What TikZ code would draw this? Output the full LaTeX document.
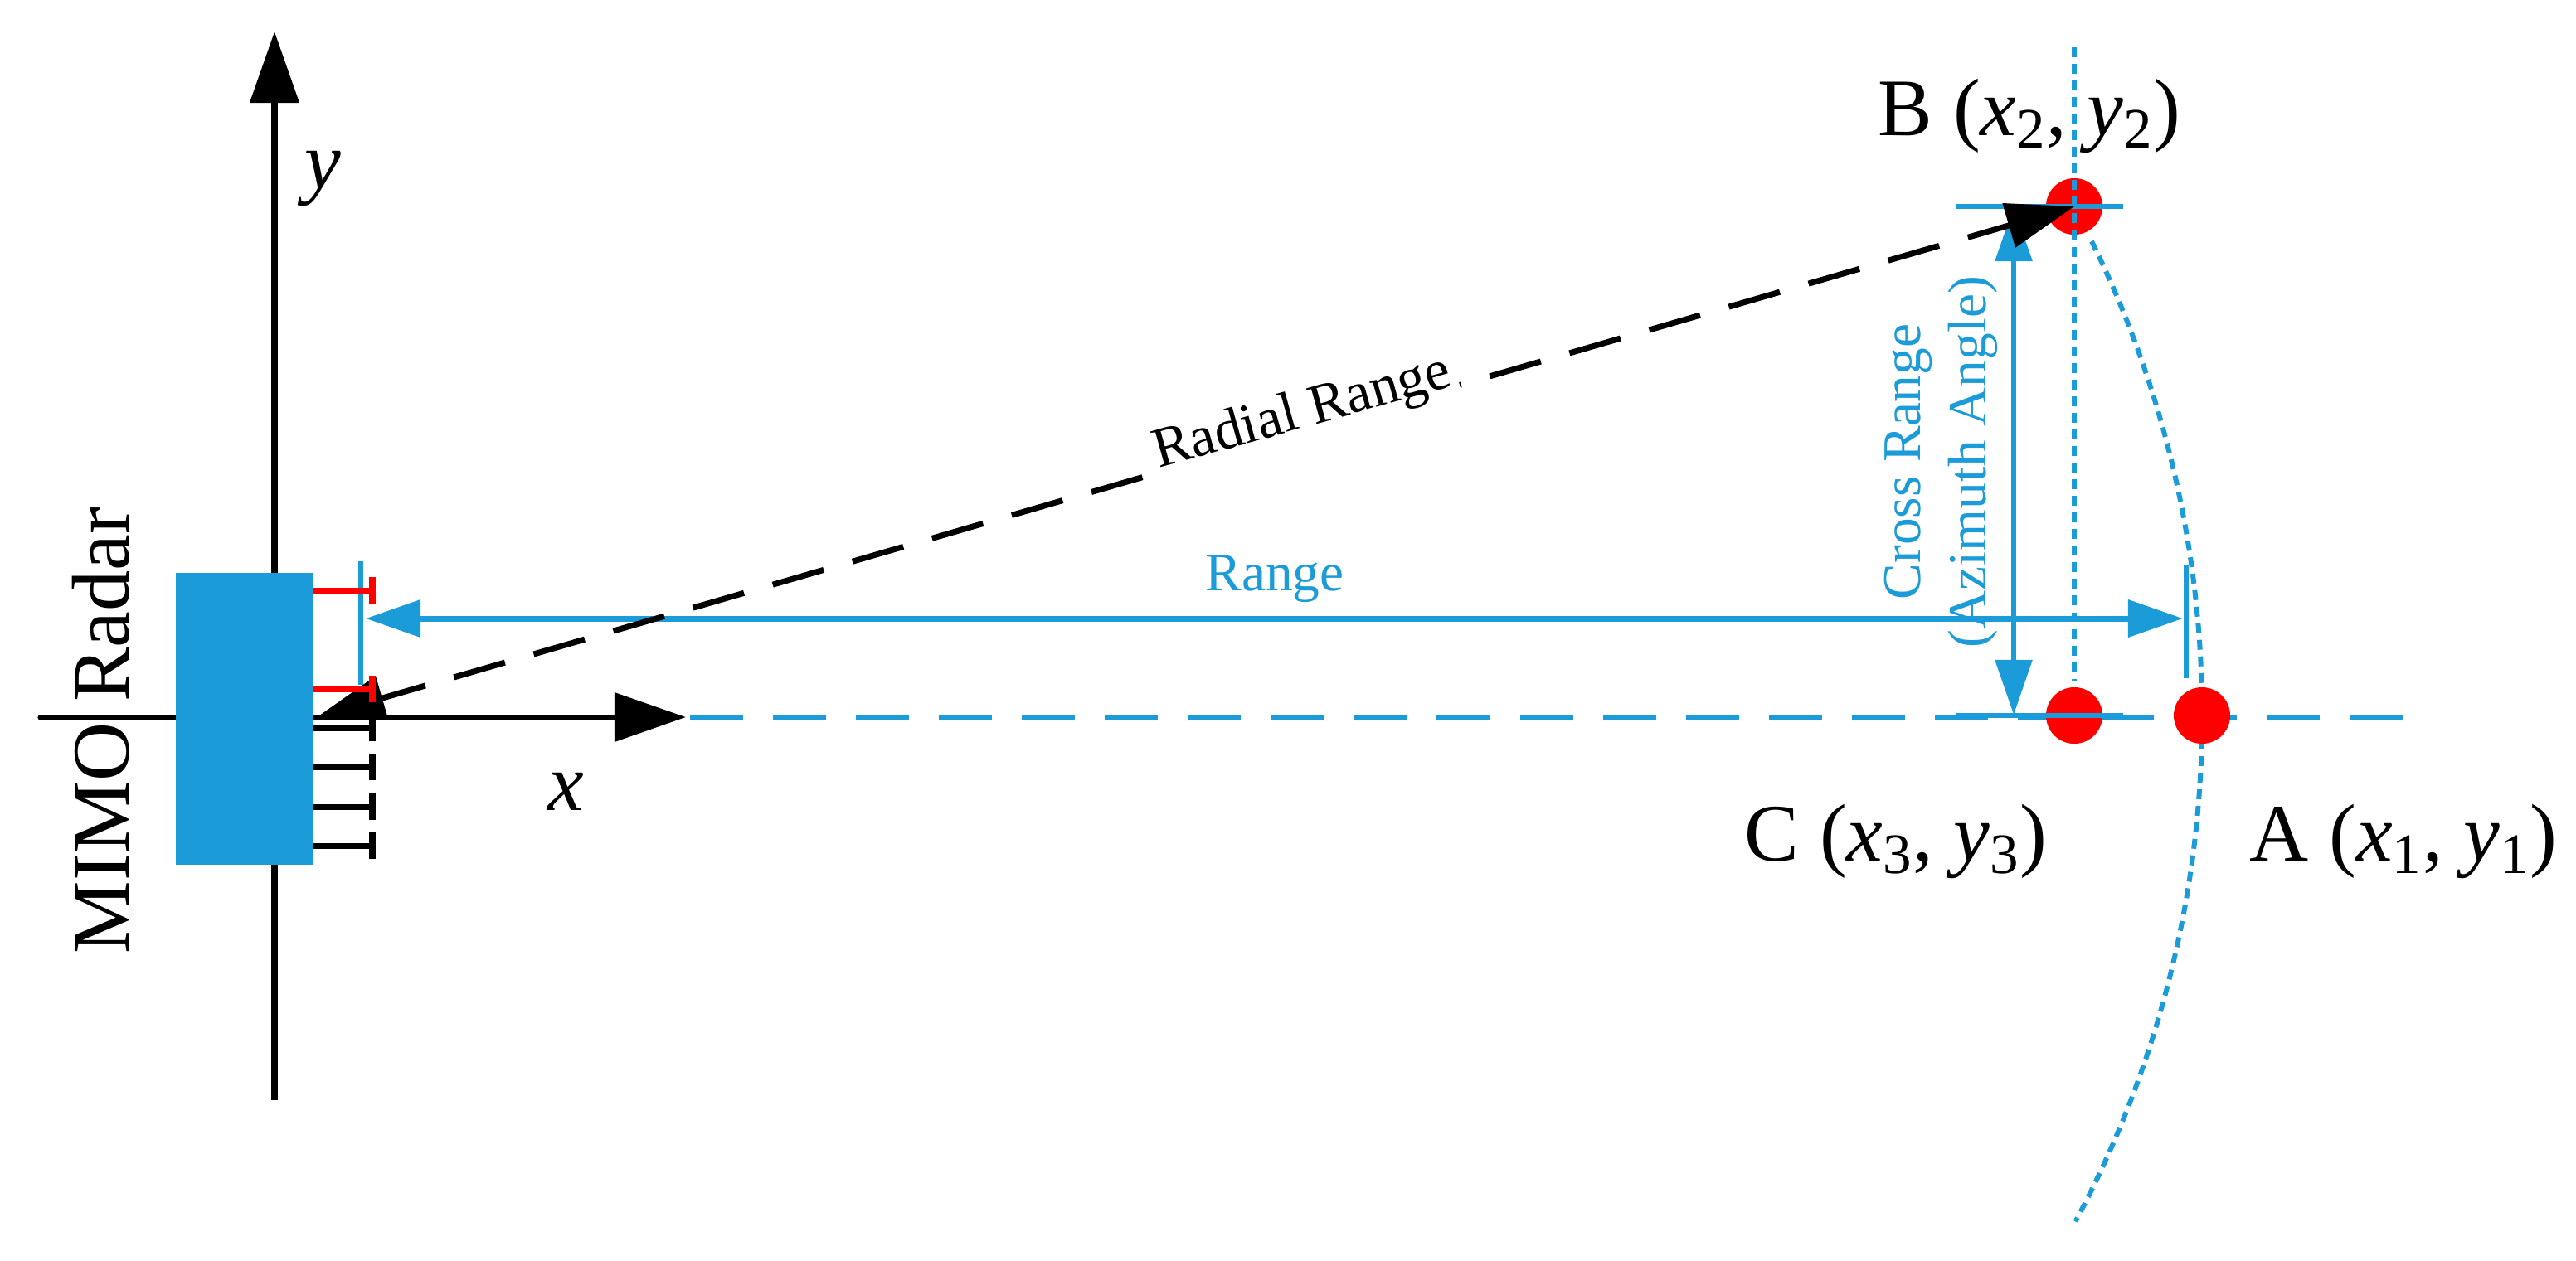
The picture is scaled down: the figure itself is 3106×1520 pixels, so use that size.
\documentclass[tikz,border=0pt]{standalone}
\usepackage{fontspec}
\usepackage{xcolor}
\setmainfont{Liberation Serif}
\usetikzlibrary{arrows.meta}
\definecolor{radarblue}{HTML}{1B9BD7}

\begin{document}
\begin{tikzpicture}[x=0.01cm, y=-0.01cm,
  axis/.style={line width=2.2pt, -{Triangle[length=0.86cm, width=0.58cm]}},
  span/.style={radarblue, {Triangle[length=0.66cm, width=0.44cm]}-{Triangle[length=0.66cm, width=0.44cm]}},
  guide/.style={radarblue, line width=1.9pt},
  dots/.style={radarblue, line width=1.7pt, dash pattern=on 3.4pt off 2.3pt},
  target/.style={circle, fill=red, minimum size=0.68cm, inner sep=0pt},
  big/.style={font=\fontsize{28}{30}\selectfont},
  small/.style={font=\fontsize{18.6}{20}\selectfont}]
  \useasboundingbox (0,0) rectangle (3106,1520);

  \coordinate (O) at (331,865);
  \coordinate (L) at (49,865);
  \coordinate (Xtip) at (827,865);
  \coordinate (Ytop) at (331,38);
  \coordinate (Ybot) at (331,1327);
  \coordinate (Xend) at (2899,865);
  \coordinate (Rtail) at (382,865);
  \coordinate (Atop) at (2522,291);

  \draw[line width=2pt, line cap=round] (L) -- (O);
  \draw[axis] (Ybot) -- (Ytop);
  \draw[axis, line width=2pt] (O) -- (Xtip);
  \draw[radarblue, line width=2pt, dash pattern=on 18.2pt off 10.25pt] (Xtip) ++(5,0) -- (Xend);

  % arc through A
  \draw[dots] (Atop) arc[start angle=26.2, end angle=-28.1, radius=12.95cm];

  \node[target] (A) at (2655,863) {};
  \node[target] (B) at (2501,249) {};
  \node[target] (C) at (2501,863) {};

  \node[fill=radarblue, minimum width=1.65cm, minimum height=3.52cm, inner sep=0pt] (radar) at (294.5,867) {};

  \foreach \y in {878,925,973,1020}
    \draw[line width=2pt] (377,\y) -- (449,\y) (449,\y-16) -- (449,\y+16);

  \coordinate (Gtop) at (435,677);
  \coordinate (Gbot) at (435,826);
  \draw[guide, line width=1.6pt] (Gtop) -- (Gbot);

  \draw[guide] (2358,249) -- (2560,249);
  \draw[guide] (2358,863) -- (2560,863);
  \draw[guide, line width=1.8pt] (2636,682) -- (2636,818);
  \coordinate (Dtop) at (2501,57);
  \coordinate (Dbot) at (2501,822);
  \draw[dots] (Dtop) -- (Dbot);

  \coordinate (Rl) at (441,746);
  \coordinate (Rr) at (2632,746);
  \draw[span, line width=2pt] (Rl) -- (Rr);
  \coordinate (Cu) at (2428,249);
  \coordinate (Cd) at (2428,862);
  \draw[span, line width=1.6pt] (Cu) -- (Cd);

  \draw[line width=2pt, dash pattern=on 18.2pt off 10.25pt, dash phase=2.3pt, {Triangle[length=0.82cm, width=0.54cm]}-{Triangle[length=0.82cm, width=0.54cm]}] (Rtail) -- (B.center);

  \draw[red, line width=2pt] (377,712) -- (449,712) (449,696) -- (449,728);
  \draw[red, line width=2pt] (377,831) -- (449,831) (449,815) -- (449,847);

  \node[small, font=\fontsize{19.4}{20}\selectfont, rotate=15.6, fill=white, anchor=base, inner xsep=2pt, inner ysep=2pt] (radial) at (1575,515) {Radial Range};
  \node[small, radarblue, anchor=base, inner sep=0pt] (range) at (1537,712) {Range};
  \node[small, radarblue, rotate=90, anchor=base, inner sep=0pt] (cross) at (2315,557) {Cross Range};
  \node[small, radarblue, rotate=90, anchor=base, inner sep=0pt] (azimuth) at (2394,557) {(Azimuth Angle)};

  \node[big, rotate=90, anchor=base west, inner sep=0pt] (mimo) at (155,1151) {MIMO Radar};
  \node[big, anchor=base, inner sep=0pt] (xlab) at (682,977) {\textit{x}};
  \node[big, anchor=base, inner sep=0pt] (ylab) at (389,227) {\textit{y}};
  \node[big, anchor=base west, inner sep=0pt] (Blab) at (2264,163) {B (\textit{x}\textsubscript{2}, \textit{y}\textsubscript{2})};
  \node[big, anchor=base west, inner sep=0pt] (Clab) at (2103,1038) {C (\textit{x}\textsubscript{3}, \textit{y}\textsubscript{3})};
  \node[big, anchor=base west, inner sep=0pt] (Alab) at (2712,1038) {A (\textit{x}\textsubscript{1}, \textit{y}\textsubscript{1})};
\end{tikzpicture}
\end{document}
